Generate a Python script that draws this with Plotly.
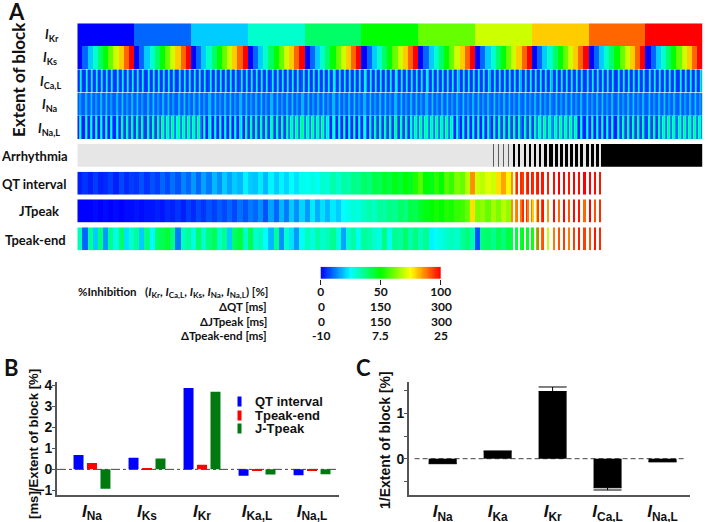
import plotly.graph_objects as go

W, H = 709, 522
SUB = 5          # drawn cells per stimulation step
STEPS = 121

# ---- panel A data -------------------------------------------------------
IKR_LEVELS = [0, 10, 20, 30, 40, 50, 60, 70, 80, 90, 100]
IKS_LEVELS = [0, 10, 20, 30, 40, 50, 60, 70, 80, 90, 100]
ICAL_PATTERN = [5, 5, 8, 24, 18]
INA_PATTERN = [9, 9, 15, 15, 11, 9, 9, 18, 18, 11, 9, 9, 14, 20, 12]
INAL_BLUE = [3, 3, 22, 26, 12]
INAL_DARK = [6, 6, 32, 36, 12]
INAL_GREEN = [10, 28, 38, 32, 14]

QT_VALUES = [3, 5, 3, 6, 3, 4, 6, 3, 7, 4,
             6, 5, 8, 5, 8, 6, 10, 7, 11, 8,
             13, 10, 15, 10, 16, 12, 18, 14, 20, 16,
             20, 18, 24, 20, 19, 23, 18, 24, 20, 24,
             21, 25, 22, 27, 26, 28, 26, 30, 29, 33,
             30, 34, 33, 37, 36, 40, 38, 43, 42, 46,
             44, 48, 45, 50, 47, 53, 58, 50, 48, 54,
             50, 58, 55, 62, 60, 68, 86, 70, 68, 72,
             70, 78, 84, 76, 86, 96, 94, 98, 96, 98,
             98, 97, 99, 100, 100, 98, 100, 99, 100, 100,
             99, 98]
JT_VALUES = [0, 0, 0, 1, 0, 1, 0, 1, 0, 1,
             1, 2, 1, 2, 2, 3, 2, 4, 3, 5,
             3, 6, 4, 7, 5, 8, 6, 9, 7, 10,
             7, 11, 8, 12, 10, 14, 8, 16, 10, 18,
             12, 20, 14, 21, 15, 23, 17, 22, 18, 23,
             20, 25, 27, 29, 28, 31, 33, 31, 35, 34,
             37, 36, 40, 38, 43, 42, 46, 48, 50, 52,
             50, 53, 52, 55, 56, 60, 78, 62, 64, 60,
             66, 62, 68, 64, 86, 88, 96, 88, 80, 94,
             98, 85, 99, 90, 100, 92, 99, 98, 90, 100,
             92, 96]
TP_VALUES = [32, 10, 35, 20, 38, 15, 36, 28, 40, 22,
             30, 35, 20, 37, 25, 40, 42, 45, 38, 12,
             32, 35, 28, 40, 30, 38, 42, 30, 36, 20,
             40, 44, 30, 42, 30, 32, 25, 18, 35, 14,
             30, 22, 15, 26, 32, 28, 34, 30, 32, 36,
             28, 16, 30, 34, 26, 35, 33, 30, 28, 38,
             26, 36, 34, 40, 33, 38, 32, 36, 24, 26,
             28, 30, 32, 30, 35, 38, 33, 8, 38, 40,
             36, 42, 38, 44, 42, 45, 48, 46, 52, 90,
             92, 70, 88, 92, 94, 88, 94, 97, 94, 92,
             98, 96]
# arrhythmic cells inside each step, from step 80 on (0.6 = thin grey line)
ARR_WIDTH = [1, 1, 1, 1, 2, 2, 2, 2, 2, 2, 3, 3, 3, 3, 3, 3, 3, 3, 3, 3, 3, 3]
COLORBAR_VALUES = list(range(0, 101))

# ---- panels B / C data ----------------------------------------------------
B_CATS = ["Na", "Ks", "Kr", "Ka,L", "Na,L"]
B_QT = [0.68, 0.55, 3.88, -0.30, -0.28]
B_TP = [0.30, 0.03, 0.22, -0.04, -0.07]
B_JT = [-0.92, 0.52, 3.70, -0.25, -0.23]
C_CATS = ["Na", "Ka", "Kr", "Ca,L", "Na,L"]
C_VALS = [-0.10, 0.16, 1.48, -0.64, -0.06]
C_ERR_UP = [0, 0.01, 0.10, 0, 0]
C_ERR_DOWN = [0.01, 0, 0, 0.05, 0.01]

JET = [[0, "#0000ff"], [0.25, "#00ffff"], [0.5, "#00ff00"],
       [0.75, "#ffff00"], [1, "#ff0000"]]
GREY_BLACK = [[0, "#e6e6e6"], [1, "#000000"]]
LABEL_FONT = "Lato"
ARIAL = "Liberation Sans"

# ---- expand the design into drawn cells --------------------------------
n = STEPS * SUB
ikr = [IKR_LEVELS[i // (11 * SUB)] for i in range(n)]
iks = [IKS_LEVELS[(i // SUB) % 11] for i in range(n)]
ical = [ICAL_PATTERN[i % SUB] for i in range(n)]
ina = [INA_PATTERN[i % len(INA_PATTERN)] for i in range(n)]
phases = [INAL_BLUE, INAL_DARK, INAL_GREEN]
inal = [phases[(i * 15 // n) % 3][i % SUB] for i in range(n)]

arr = [0.0] * n
for k, w in enumerate(ARR_WIDTH):
    for s in range(w):
        arr[(80 + k) * SUB + 2 + s] = 0.6 if w == 1 else 1.0
for i in range(102 * SUB, n):
    arr[i] = 1.0


def outcome(vals):
    out = []
    for i in range(n):
        p = i // SUB
        out.append(vals[p] if p < len(vals) and arr[i] < 1 else None)
    return out


fig = go.Figure()


def dom_x(a, b):
    return [a / W, b / W]


def dom_y(a, b):
    return [1 - b / H, 1 - a / H]


rows = [(ikr, 23.3, 46, JET, 100), (iks, 46, 69.3, JET, 100), (ical, 69.3, 92.7, JET, 100),
        (ina, 92.7, 116, JET, 100), (inal, 116, 139, JET, 100), (arr, 144, 166.7, GREY_BLACK, 1),
        (outcome(QT_VALUES), 171.7, 194.7, JET, 100), (outcome(JT_VALUES), 199.3, 222.7, JET, 100),
        (outcome(TP_VALUES), 227.3, 250.3, JET, 100)]
layout = {}
for idx, (z, y0, y1, scale, zmax) in enumerate(rows, start=1):
    fig.add_trace(go.Heatmap(z=[z], x0=0, dx=1, y0=0, dy=1, colorscale=scale, zmin=0, zmax=zmax,
                             showscale=False, hoverinfo="skip", xaxis=f"x{idx}", yaxis=f"y{idx}"))
    layout[f"xaxis{idx}"] = dict(domain=dom_x(77.3, 702.7), range=[-0.5, n - 0.5], visible=False,
                                 anchor=f"y{idx}", automargin=False)
    layout[f"yaxis{idx}"] = dict(domain=dom_y(y0, y1), range=[-0.5, 0.5], visible=False,
                                 anchor=f"x{idx}", automargin=False)

# colour bar strip
fig.add_trace(go.Heatmap(z=[COLORBAR_VALUES], x=COLORBAR_VALUES, y=[0], colorscale=JET, zmin=0, zmax=100,
                         showscale=False, hoverinfo="skip", xaxis="x10", yaxis="y10"))
layout["xaxis10"] = dict(domain=dom_x(320.7, 440.7), range=[0, 100], anchor="y10", automargin=False,
                         tickvals=[0, 50, 100], ticktext=["0", "50", "100"], ticks="outside", ticklen=5,
                         tickcolor="#222", showgrid=False, zeroline=False, showline=False,
                         ticklabelstandoff=-3,
                         tickfont=dict(family=LABEL_FONT, size=12, color="#111", weight="bold"),
                         tickangle=0)
layout["yaxis10"] = dict(domain=dom_y(266.7, 279), range=[-0.5, 0.5], visible=False, anchor="x10",
                         automargin=False)

# panel B
for name, vals, color in [("QT interval", B_QT, "#0000ff"), ("Tpeak-end", B_TP, "#ff0000"),
                          ("J-Tpeak", B_JT, "#007a10")]:
    fig.add_trace(go.Bar(x=[0, 1, 2, 3, 4], y=vals, name=name, marker=dict(color=color, line_width=0),
                         xaxis="x11", yaxis="y11", showlegend=False, offsetgroup=name))
layout["xaxis11"] = dict(domain=dom_x(57, 339), range=[-0.636, 4.49], anchor="y11", automargin=False,
                         tickvals=[0, 1, 2, 3, 4],
                         ticktext=[f"<b><i>I</i><sub>{c}</sub></b>" for c in B_CATS],
                         tickfont=dict(family=ARIAL, size=17, color="#111"),
                         showline=True, linecolor="#555", linewidth=2, ticks="", showgrid=False, zeroline=False)
layout["yaxis11"] = dict(domain=dom_y(382, 494.5), range=[-1.2, 4.17], anchor="x11", automargin=False,
                         tickvals=[-1, 0, 1, 2, 3, 4], ticks="outside", ticklen=3, tickcolor="#555",
                         ticklabelstandoff=-3,
                         tickfont=dict(family=ARIAL, size=14, color="#111", weight="bold"),
                         showline=True, linecolor="#555", linewidth=2, showgrid=False, zeroline=False)

# panel C
fig.add_trace(go.Bar(x=[0, 1, 2, 3, 4], y=C_VALS, width=0.51, marker=dict(color="#000", line_width=0),
                     error_y=dict(type="data", symmetric=False, array=C_ERR_UP, arrayminus=C_ERR_DOWN,
                                  color="#000", thickness=1, width=14),
                     xaxis="x12", yaxis="y12", showlegend=False, name="1/Extent of block"))
layout["xaxis12"] = dict(domain=dom_x(409, 690), range=[-0.613, 4.5], anchor="y12", automargin=False,
                         tickvals=[0, 1, 2, 3, 4],
                         ticktext=[f"<b><i>I</i><sub>{c}</sub></b>" for c in C_CATS],
                         tickfont=dict(family=ARIAL, size=17, color="#111"),
                         showline=True, linecolor="#555", linewidth=2, ticks="", showgrid=False, zeroline=False)
layout["yaxis12"] = dict(domain=dom_y(382, 495), range=[-0.80, 1.69], anchor="x12", automargin=False,
                         tickvals=[-0.5, 0, 0.5, 1, 1.5], ticktext=["", "0", "", "1", ""],
                         ticks="outside", ticklen=3, tickcolor="#555", ticklabelstandoff=-3,
                         tickfont=dict(family=ARIAL, size=14, color="#111", weight="bold"),
                         showline=True, linecolor="#555", linewidth=2, showgrid=False, zeroline=False)

shapes = [dict(type="line", xref="x11 domain", yref="y11", x0=0, x1=1, y0=0, y1=0, layer="below",
               line=dict(color="#444", width=1, dash="dashdot")),
          dict(type="line", xref="x12 domain", yref="y12", x0=0.02, x1=0.98, y0=0, y1=0, layer="below",
               line=dict(color="#444", width=1, dash="5px,3px"))]

ann = []


def text(s, x, y, size=13, anchor="center", family=LABEL_FONT, angle=0, color="#111"):
    ann.append(dict(text=s, xref="paper", yref="paper", x=x / W, y=1 - y / H, showarrow=False,
                    xanchor=anchor, yanchor="middle", textangle=angle,
                    font=dict(family=family, size=size, color=color)))


def cur(sub):
    return f"<b><i>I</i><sub>{sub}</sub></b>"


text("<b>A</b>", 16, 12, 22)
text("<b>B</b>", 11, 367, 22)
text("<b>C</b>", 363, 367, 22)
text("<b>Extent of block</b>", 19, 80, 17, angle=-90)
for s, x, y in [("Kr", 52, 35), ("Ks", 50, 58), ("Ca,L", 50, 82), ("Na", 50, 105), ("Na,L", 49, 129)]:
    text(cur(s), x, y, 13)
for s, x, y in [("Arrhythmia", 34, 156), ("QT interval", 34, 184), ("JTpeak", 39, 211), ("Tpeak-end", 35, 240)]:
    text(f"<b>{s}</b>", x, y, 13)

text("<b>%Inhibition   (<i>I</i><sub>Kr</sub>, <i>I</i><sub>Ca,L</sub>, <i>I</i><sub>Ks</sub>, "
     "<i>I</i><sub>Na</sub>, <i>I</i><sub>Na,L</sub>) [%]</b>", 76, 292.5, 11.5, anchor="left")
for s, y, ticks in [("ΔQT [ms]", 306.5, ["0", "150", "300"]),
                    ("ΔJTpeak [ms]", 321, ["0", "150", "300"]),
                    ("ΔTpeak-end [ms]", 335.5, ["-10", "7.5", "25"])]:
    text(f"<b>{s}</b>", 269, y, 11.5, anchor="right")
    for t, xp in zip(ticks, [321, 380, 441]):
        text(f"<b>{t}</b>", xp, y, 12)

text("<b>[ms]/Extent of block [%]</b>", 33, 444, 13.2, family=ARIAL, angle=-90)
text("<b>1/Extent of block [%]</b>", 385, 440, 14, family=ARIAL, angle=-90)

# legend of panel B
for s, y, color in [("QT interval", 401.5, "#0000ff"), ("Tpeak-end", 415, "#ff0000"), ("J-Tpeak", 428.5, "#007a10")]:
    text(f"<b>{s}</b>", 253, y, 13, anchor="left", family=ARIAL)
    ann.append(dict(text=" ", xref="paper", yref="paper", x=240 / W, y=1 - y / H, showarrow=False,
                    xanchor="center", yanchor="middle", width=3, height=9, bgcolor=color, borderpad=0,
                    font=dict(size=1)))

fig.update_layout(width=W, height=H, margin=dict(l=0, r=0, t=0, b=0, pad=0, autoexpand=False),
                  paper_bgcolor="#fff",
                  plot_bgcolor="#fff", barmode="group", bargap=0.265, bargroupgap=0.26,
                  showlegend=False, shapes=shapes, annotations=ann, **layout)
fig.write_html("out.html", config=dict(displayModeBar=False),
               post_script="document.body.style.margin='0';document.body.style.overflow='hidden';")
